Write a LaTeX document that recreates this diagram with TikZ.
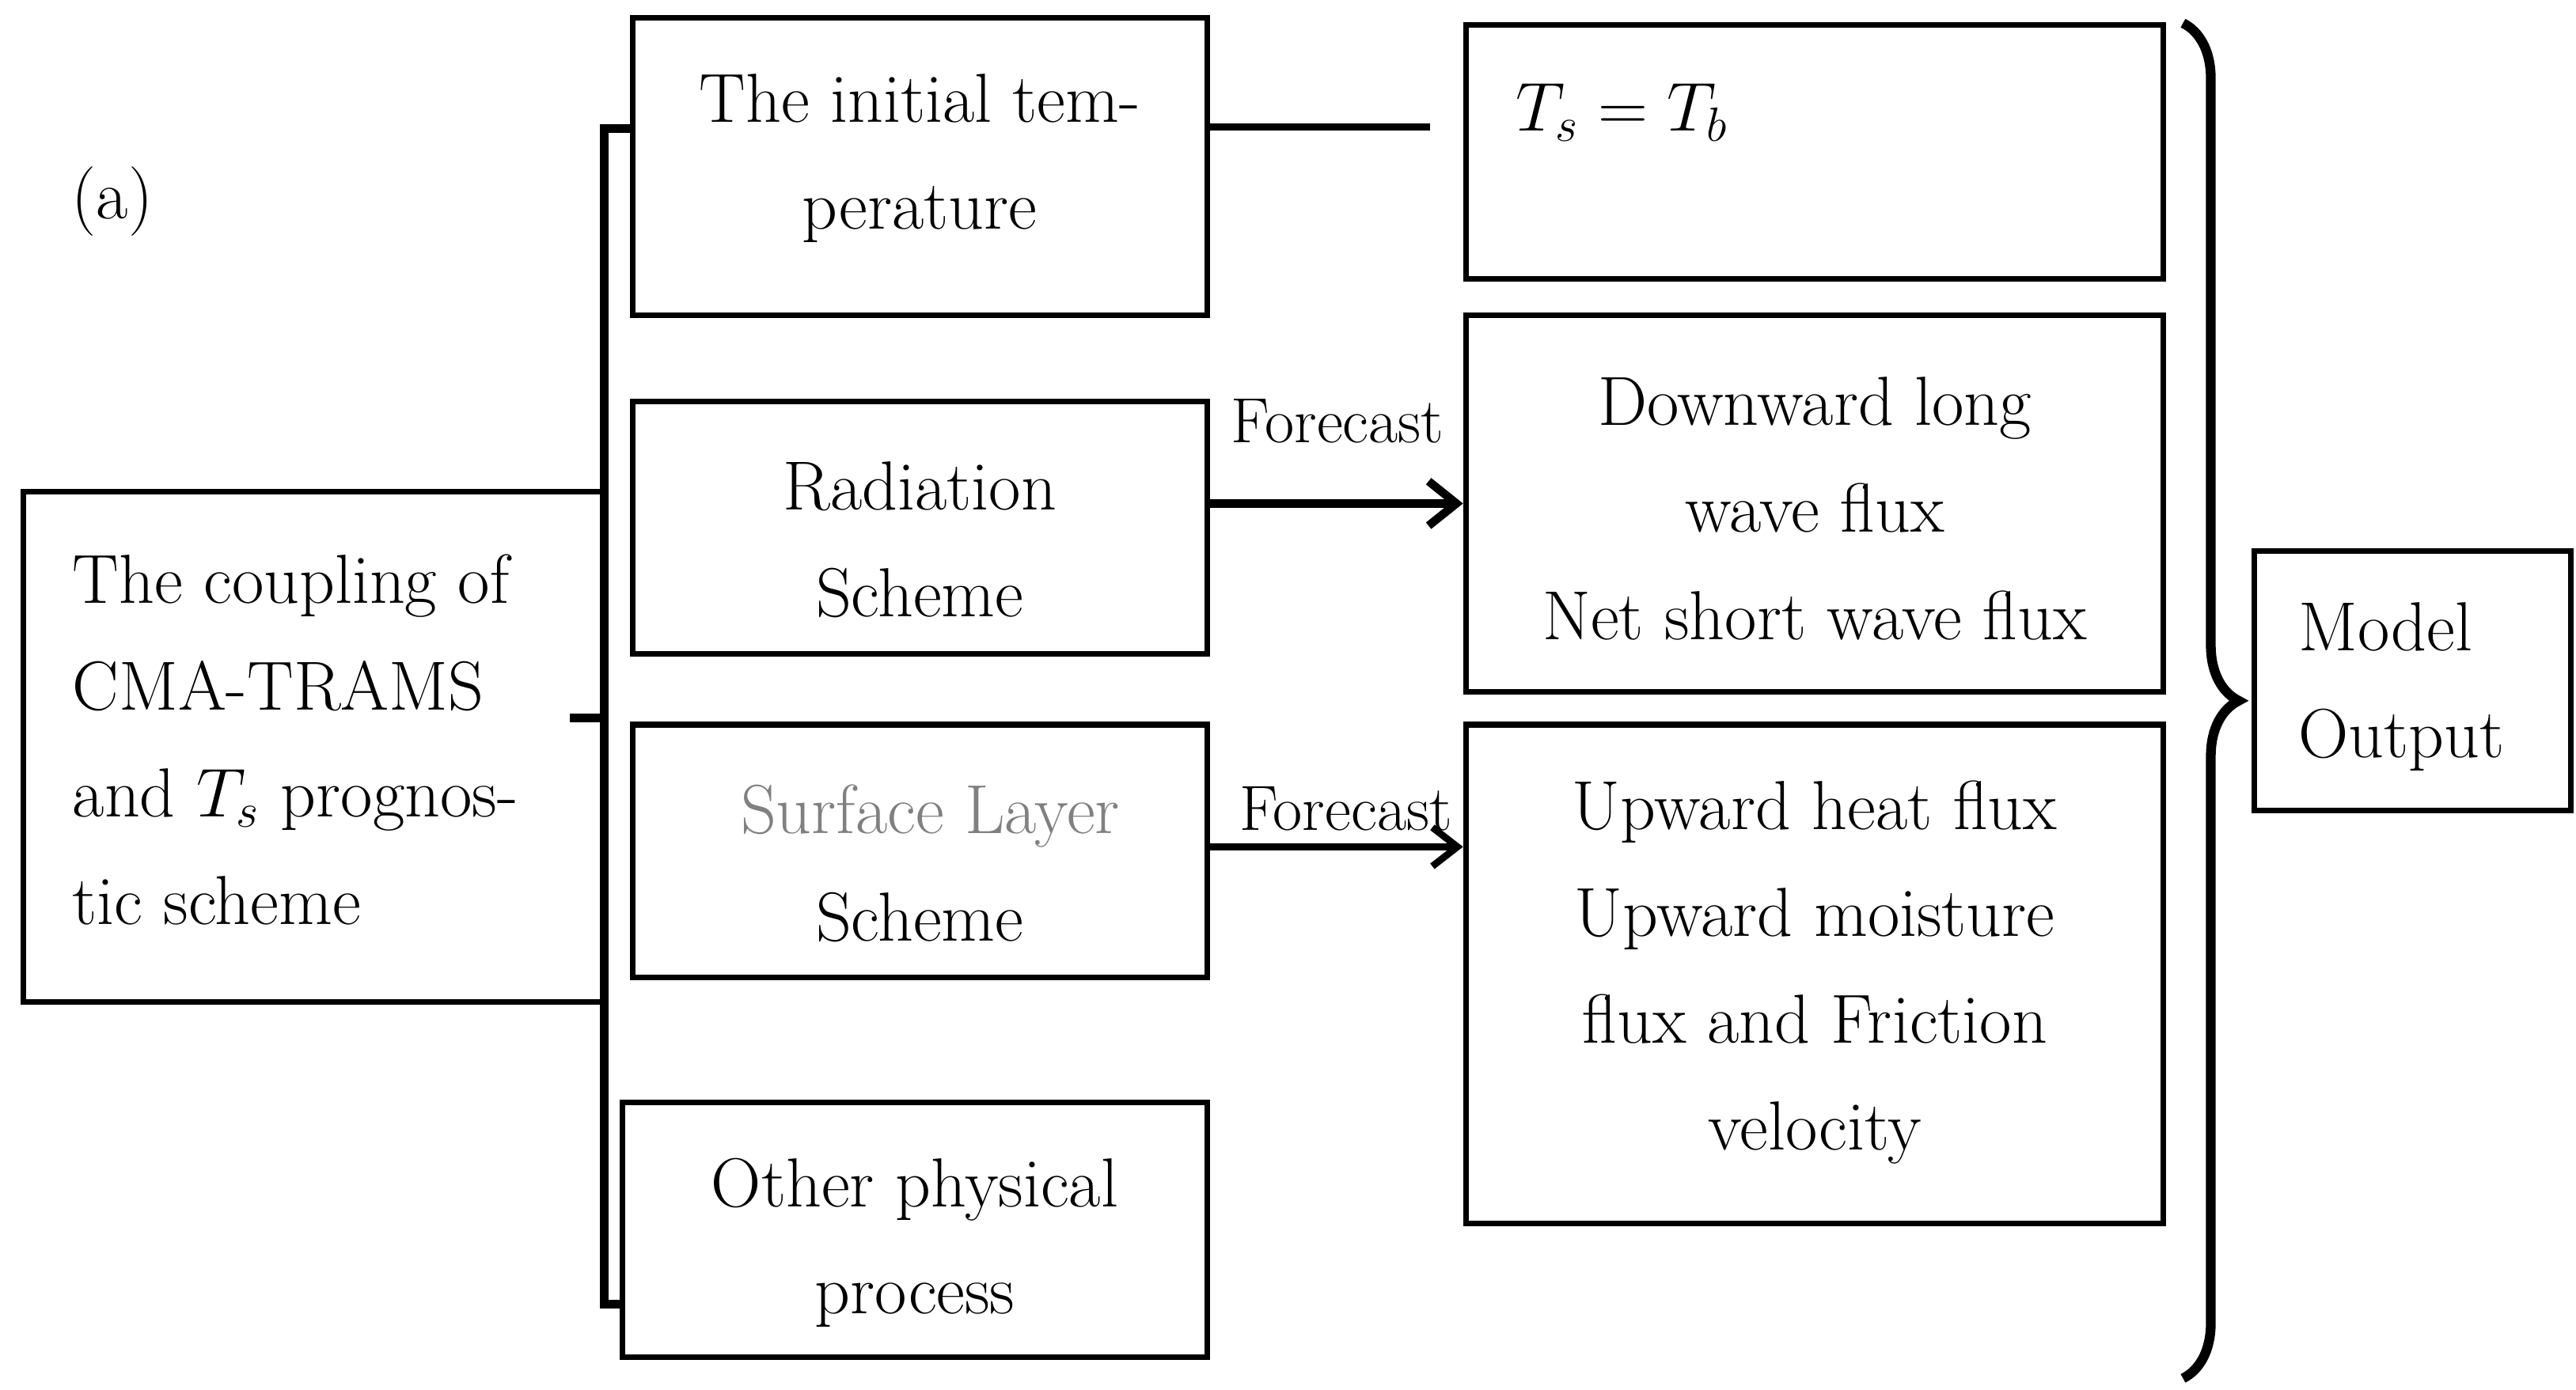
\documentclass[tikz,border=0pt]{standalone}
\usetikzlibrary{arrows.meta,decorations.pathreplacing}
\begin{document}
\begin{tikzpicture}[x=0.02087cm,y=-0.02087cm,
  bx/.style={draw,line width=2pt},
  tx/.style={font=\fontsize{25}{38.5}\selectfont,align=center},
  tl/.style={font=\fontsize{25}{38.5}\selectfont,align=left,anchor=west}]
\useasboundingbox (0,0) rectangle (1560,842);
\draw[bx] (14,298) rectangle (365,607);
\draw[bx] (383,11) rectangle (731,191);
\draw[bx] (383,243) rectangle (731,396);
\draw[bx] (383,439) rectangle (731,592);
\draw[bx] (377,668) rectangle (731,822);
\draw[bx] (888,15) rectangle (1310,169);
\draw[bx] (888,191) rectangle (1310,419);
\draw[bx] (888,439) rectangle (1310,741);
\draw[bx] (1365,334) rectangle (1557,491);
\node[tl] (l) at (38,448) {The coupling of\\CMA-TRAMS\\and $T_s$ prognos-\\tic scheme};
\node[tx] (i) at (557,96) {The initial tem-\\perature};
\node[tx] (r) at (557,327) {Radiation\\Scheme};
\node[tx] (s) at (557,523) {\textcolor{gray}{\ Surface Layer}\\Scheme};
\node[tx] (o) at (554,753) {Other physical\\process};
\node[tl] (t) at (912,68) {$T_s = T_b$};
\node[tx] (d) at (1099,308) {Downward long\\wave flux\\Net short wave flux};
\node[tx] (u) at (1099,589) {Upward heat flux\\Upward moisture\\flux and Friction\\velocity};
\node[tl] (m) at (1386,416) {Model\\Output};
\node[font=\fontsize{25}{33}\selectfont] (a) at (68,122) {(a)};
\node[font=\fontsize{23}{30}\selectfont] (f1) at (810,255) {Forecast};
\node[font=\fontsize{23}{30}\selectfont] (f2) at (815,490) {Forecast};
\draw[line width=3pt] (383,78) -- (366,78) -- (366,790) -- (377,790);
\draw[line width=3pt] (345,435) -- (366,435);
\draw[line width=2.5pt] (731,77) -- (866,77);
\draw[line width=3pt,-{Straight Barb[length=10pt,width=16pt]}] (731,305) -- (886,305);
\draw[line width=2.5pt,-{Straight Barb[length=9pt,width=14pt]}] (731,513) -- (886,513);
\draw[line width=3.5pt,decorate,decoration={brace,amplitude=20pt}] (1322,14) -- (1322,835);
\end{tikzpicture}
\end{document}
